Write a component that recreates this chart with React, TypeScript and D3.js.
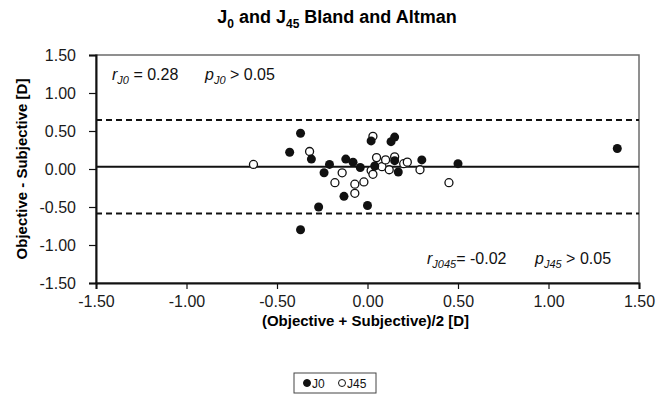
// App.tsx
// Bland and Altman plot for J0 / J45, drawn with d3 into a ref'd svg
import React, { useEffect, useRef } from "react"
import * as d3 from "d3"

// J0 points: mean (x) and difference (y)
const j0Mean = [-0.37, -0.43, -0.31, -0.21, -0.24, -0.12, -0.08, -0.04, -0.13, -0.27, -0.37, 0.0, 0.02, 0.13, 0.15, 0.04, 0.15, 0.17, 0.3, 0.5, 1.38]
const j0Diff = [0.47, 0.22, 0.13, 0.06, -0.05, 0.13, 0.09, 0.02, -0.36, -0.5, -0.8, -0.48, 0.37, 0.36, 0.42, 0.04, 0.11, -0.04, 0.12, 0.07, 0.27]

// J45 points
const j45Mean = [-0.63, -0.32, -0.14, -0.18, -0.07, -0.07, -0.02, 0.03, 0.05, 0.02, 0.03, 0.08, 0.1, 0.12, 0.15, 0.2, 0.22, 0.29, 0.45]
const j45Diff = [0.06, 0.23, -0.05, -0.18, -0.2, -0.32, -0.17, 0.43, 0.15, -0.02, -0.07, 0.03, 0.12, -0.01, 0.16, 0.07, 0.09, -0.01, -0.18]

// mean difference and limits of agreement
const meanDiff = 0.03
const limits = [0.645, -0.585]

const ticks = [-1.5, -1.0, -0.5, 0.0, 0.5, 1.0, 1.5]
const legendLabels = ["J0", "J45"]

const W = 672
const H = 395
const margin = { left: 96, right: 33, top: 55, bottom: 112 }

export default function App() {
    const ref = useRef<SVGSVGElement>(null)

    useEffect(() => {
        const svg = d3.select(ref.current)
        svg.selectAll("*").remove()

        const x = d3.scaleLinear().domain([-1.5, 1.5]).range([margin.left, W - margin.right])
        const y = d3.scaleLinear().domain([-1.5, 1.5]).range([H - margin.bottom, margin.top])
        const font = "'Liberation Sans', Arial, sans-serif"
        const fmt = (d: number) => d.toFixed(2)

        // title
        const title = svg.append("text")
            .attr("x", 337).attr("y", 23)
            .attr("text-anchor", "middle")
            .style("font-family", font).style("font-weight", "bold").style("font-size", "18px")
        title.append("tspan").text("J")
        title.append("tspan").text("0").attr("dy", 5).style("font-size", "12px")
        title.append("tspan").text(" and J").attr("dy", -5)
        title.append("tspan").text("45").attr("dy", 5).style("font-size", "12px")
        title.append("tspan").text(" Bland and Altman").attr("dy", -5)

        // plot border (top / right, grey)
        svg.append("rect")
            .attr("x", x(-1.5)).attr("y", y(1.5))
            .attr("width", x(1.5) - x(-1.5)).attr("height", y(-1.5) - y(1.5))
            .attr("fill", "none").attr("stroke", "#6b6b6b").attr("stroke-width", 1.5)

        // axes
        const yAxis = svg.append("g")
            .attr("transform", `translate(${x(-1.5)},0)`)
            .call(d3.axisLeft(y).tickValues(ticks).tickFormat(fmt as any).tickSize(7).tickPadding(13))
        const xAxis = svg.append("g")
            .attr("transform", `translate(0,${y(-1.5)})`)
            .call(d3.axisBottom(x).tickValues(ticks).tickFormat(fmt as any).tickSize(6).tickPadding(7))
        ;[xAxis, yAxis].forEach((a) => {
            a.select(".domain").attr("stroke", "#111").attr("stroke-width", 2)
            a.selectAll(".tick line").attr("stroke", "#111").attr("stroke-width", 1.2)
            a.selectAll("text").style("font-family", font).style("font-size", "16px").attr("fill", "#1a1a1a")
        })

        // mean and limits
        svg.append("line")
            .attr("x1", x(-1.5)).attr("x2", x(1.5))
            .attr("y1", y(meanDiff)).attr("y2", y(meanDiff))
            .attr("stroke", "#111").attr("stroke-width", 2)
        svg.selectAll(".loa").data(limits).enter().append("line")
            .attr("x1", x(-1.5)).attr("x2", x(1.5))
            .attr("y1", (d) => y(d)).attr("y2", (d) => y(d))
            .attr("stroke", "#111").attr("stroke-width", 2).attr("stroke-dasharray", "6,4")

        // points
        const j0 = j0Mean.map((m, i) => [m, j0Diff[i]])
        const j45 = j45Mean.map((m, i) => [m, j45Diff[i]])
        svg.append("g").selectAll("circle").data(j45).enter().append("circle")
            .attr("cx", (d) => x(d[0])).attr("cy", (d) => y(d[1])).attr("r", 4)
            .attr("fill", "#fff").attr("stroke", "#111").attr("stroke-width", 1.3)
        svg.append("g").selectAll("circle").data(j0).enter().append("circle")
            .attr("cx", (d) => x(d[0])).attr("cy", (d) => y(d[1])).attr("r", 4.5)
            .attr("fill", "#111")

        // stats annotations
        const note = (px: number, py: number, letter: string, sub: string, rest: string) => {
            const t = svg.append("text").attr("x", px).attr("y", py)
                .style("font-family", font).style("font-size", "16px").attr("fill", "#111")
            t.append("tspan").text(letter).style("font-style", "italic")
            t.append("tspan").text(sub).attr("dy", 4).style("font-style", "italic").style("font-size", "11px")
            t.append("tspan").text(rest).attr("dy", -4)
        }
        note(112, 80, "r", "J0", " = 0.28")
        note(205, 80, "p", "J0", " > 0.05")
        note(427, 264, "r", "J045", "= -0.02")
        note(535, 264, "p", "J45", " > 0.05")

        // axis titles
        svg.append("text")
            .attr("transform", `translate(27,${(y(1.5) + y(-1.5)) / 2}) rotate(-90)`)
            .attr("text-anchor", "middle")
            .style("font-family", font).style("font-weight", "bold").style("font-size", "15px")
            .text("Objective - Subjective [D]")
        svg.append("text")
            .attr("x", (x(-1.5) + x(1.5)) / 2 - 2).attr("y", 326)
            .attr("text-anchor", "middle")
            .style("font-family", font).style("font-weight", "bold").style("font-size", "15px")
            .text("(Objective + Subjective)/2 [D]")

        // legend
        const lg = svg.append("g").attr("transform", "translate(294,373)")
        lg.append("rect").attr("width", 82).attr("height", 20)
            .attr("fill", "#fff").attr("stroke", "#444").attr("stroke-width", 1)
        const item = lg.selectAll(".item").data(legendLabels).enter().append("g")
            .attr("transform", (d, i) => `translate(${13 + i * 35},10)`)
        item.append("circle").attr("r", 3.5)
            .attr("fill", (d, i) => (i === 0 ? "#111" : "#fff"))
            .attr("stroke", "#111").attr("stroke-width", 1)
        item.append("text").text((d) => d).attr("x", 5).attr("y", 4.5)
            .style("font-family", font).style("font-size", "12px").attr("fill", "#111")
    }, [])

    return <svg ref={ref} width={W} height={H} style={{ position: "absolute", left: 0, top: 0, background: "#fff" }} />
}
